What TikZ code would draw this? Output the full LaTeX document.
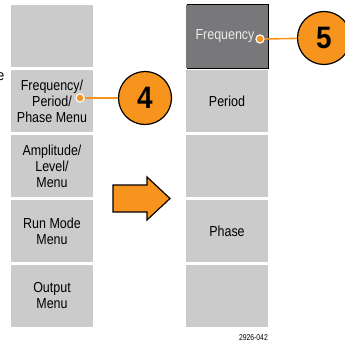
\documentclass[tikz,border=0pt]{standalone}
\usepackage{fontspec}
\setmainfont{Liberation Sans}[FakeStretch=0.86]
\newfontfamily\numfont{Liberation Sans}[FakeStretch=0.9]
\definecolor{btn}{HTML}{CBCBCB}
\definecolor{btndark}{HTML}{78787B}
\definecolor{callout}{HTML}{F7941D}
\begin{document}
\begin{tikzpicture}[x=1pt,y=-1pt,
  button/.style={fill=btn,draw=none,minimum width=82pt,minimum height=62pt,inner sep=0pt,
    align=center,font=\fontsize{14.5}{16}\selectfont,text=black},
  darkbutton/.style={button,fill=btndark,text=white!92!black},
  dot/.style={circle,fill=callout,draw=white,line width=1pt,minimum size=8pt,inner sep=0pt},
  bubble/.style={circle,fill=callout,draw=black,line width=1.2pt,minimum size=53pt,inner sep=0pt,
    font=\numfont\bfseries\fontsize{31}{31}\selectfont},
  lead/.style={callout,line width=1.6pt}]
\useasboundingbox (0,0) rectangle (345,345);
\fill[white] (0,0) rectangle (345,345);
% left column
\node[button] (l1) at (52,36) {};
\node[button] (l2) at (52,101) {Frequency/\\Period/\\Phase Menu};
\node[button] (l3) at (52,166) {Amplitude/\\Level/\\Menu};
\node[button] (l4) at (52,231) {Run Mode\\Menu};
\node[button] (l5) at (52,296) {Output\\Menu};
% clipped letter at left edge
\node[anchor=east,inner sep=0pt,font=\fontsize{14.5}{16}\selectfont] (e) at (4.5,77) {e};
% right column
\draw[black,line width=1pt] (186.5,5) -- (268.5,5) -- (268.5,68.5) -- (186.5,68.5);
\node[darkbutton,minimum width=82pt,minimum height=63pt] (r1) at (227,36.5) {\hspace*{-4pt}Frequency};
\node[button] (r2) at (227,101) {Period};
\node[button] (r3) at (227,166) {};
\node[button] (r4) at (227,231) {Phase};
\node[button] (r5) at (227,296) {};
% big arrow
\draw[fill=callout,draw=black,line width=1.2pt]
  (113,185) -- (147,185) -- (147,177) -- (170,198.5) -- (147,220) -- (147,212) -- (113,212) -- cycle;
% callouts
\node[bubble] (c4) at (145,98) {4};
\node[bubble] (c5) at (324,38) {5};
\node[dot] (d4) at (80,98) {};
\node[dot] (d5) at (260,39) {};
\draw[lead] (d4) -- (c4);
\draw[lead] (d5) -- (c5);
\node[dot] (d4b) at (80,98) {};
\node[dot] (d5b) at (260,39) {};
% figure number
\node[anchor=east,inner sep=0pt,font=\fontsize{8.5}{8.5}\selectfont\addfontfeatures{FakeStretch=0.8}] (fig) at (268,338) {2926-042};
\end{tikzpicture}
\end{document}
